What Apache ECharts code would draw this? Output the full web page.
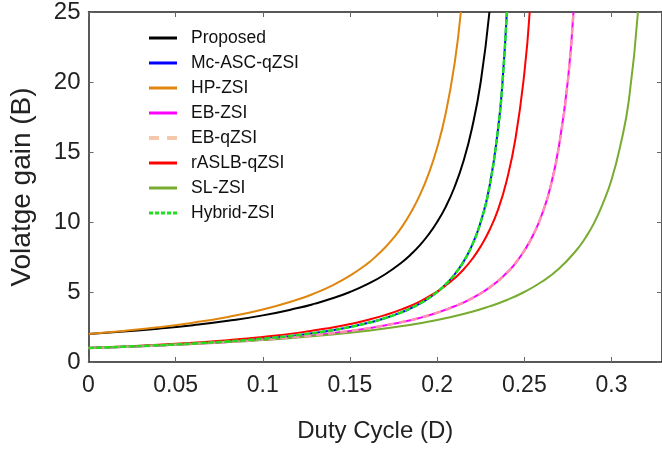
<!DOCTYPE html>
<html>
<head>
<meta charset="utf-8">
<script src="https://cdn.jsdelivr.net/npm/echarts@6/dist/echarts.min.js"></script>
<style>
  html, body { margin: 0; padding: 0; background: #fff; }
  #main { width: 662px; height: 450px; }
</style>
</head>
<body>
<div id="main"></div>
<script>
// values (duty cycle D -> voltage gain B)
var proposedD = [0, 0.02, 0.04, 0.06, 0.08, 0.1, 0.12, 0.13, 0.14, 0.15, 0.16, 0.17, 0.18, 0.185, 0.19, 0.195, 0.2, 0.205, 0.21, 0.215, 0.22, 0.225, 0.23];
var proposedB = [2, 2.17, 2.38, 2.63, 2.94, 3.33, 3.85, 4.17, 4.55, 5.0, 5.56, 6.25, 7.14, 7.69, 8.33, 9.09, 10, 11.1, 12.5, 14.3, 16.7, 20, 25];

var hpD = [0, 0.02, 0.04, 0.06, 0.08, 0.1, 0.12, 0.13, 0.14, 0.15, 0.16, 0.165, 0.17, 0.175, 0.18, 0.185, 0.19, 0.195, 0.2, 0.205, 0.21, 0.2136];
var hpB = [2, 2.22, 2.48, 2.81, 3.22, 3.75, 4.46, 4.92, 5.48, 6.17, 7.03, 7.56, 8.16, 8.86, 9.69, 10.7, 11.9, 13.4, 15.3, 17.8, 21.3, 25];

var mcD = [0, 0.02, 0.04, 0.06, 0.08, 0.1, 0.12, 0.14, 0.15, 0.16, 0.17, 0.18, 0.185, 0.19, 0.195, 0.2, 0.205, 0.21, 0.215, 0.22, 0.225, 0.23, 0.235, 0.2375, 0.24];
var mcB = [1, 1.09, 1.19, 1.32, 1.47, 1.67, 1.92, 2.27, 2.5, 2.78, 3.13, 3.57, 3.85, 4.17, 4.55, 5, 5.56, 6.25, 7.14, 8.33, 10, 12.5, 16.7, 20, 25];

var ebD = [0, 0.02, 0.04, 0.06, 0.08, 0.1, 0.12, 0.14, 0.16, 0.18, 0.19, 0.2, 0.21, 0.22, 0.23, 0.24, 0.245, 0.25, 0.255, 0.26, 0.265, 0.27, 0.275, 0.2782];
var ebB = [1, 1.08, 1.18, 1.30, 1.43, 1.60, 1.80, 2.06, 2.40, 2.86, 3.15, 3.52, 3.98, 4.55, 5.31, 6.37, 7.07, 7.95, 9.05, 10.5, 12.5, 15.5, 20.1, 25];

var raslbD = [0, 0.02, 0.04, 0.06, 0.08, 0.1, 0.12, 0.14, 0.15, 0.16, 0.17, 0.18, 0.19, 0.2, 0.205, 0.21, 0.215, 0.22, 0.225, 0.23, 0.235, 0.24, 0.245, 0.25, 0.2531];
var raslbB = [1, 1.10, 1.23, 1.38, 1.56, 1.79, 2.08, 2.47, 2.71, 3.0, 3.35, 3.78, 4.32, 5.03, 5.47, 5.98, 6.59, 7.34, 8.26, 9.41, 10.9, 13.0, 16.0, 20.6, 25];

var slD = [0, 0.02, 0.04, 0.06, 0.08, 0.1, 0.12, 0.14, 0.16, 0.18, 0.2, 0.22, 0.23, 0.24, 0.25, 0.26, 0.27, 0.28, 0.285, 0.29, 0.295, 0.3, 0.305, 0.31, 0.3152];
var slB = [1, 1.09, 1.18, 1.29, 1.42, 1.57, 1.75, 1.97, 2.23, 2.57, 3.0, 3.59, 3.97, 4.43, 5.0, 5.73, 6.68, 8.0, 8.86, 9.92, 11.3, 13, 15.4, 18.7, 25];

var xTicks = [0, 0.05, 0.1, 0.15, 0.2, 0.25, 0.3];

function pairs(xs, ys) {
  return xs.map(function (x, i) { return [x, ys[i]]; });
}

var font = "'Liberation Sans', Arial, sans-serif";

var myChart = echarts.init(document.getElementById('main'));

function line(name, xs, ys, color, width, type, z) {
  return {
    name: name,
    type: 'line',
    data: pairs(xs, ys),
    showSymbol: false,
    symbol: 'none',
    smooth: 0.5,
    z: z,
    lineStyle: { color: color, width: width, type: type },
    itemStyle: { color: color },
    animation: false
  };
}

// legend icons: plain bars or dashed bars instead of line+circle
var solidIcon = 'path://M0,0H28V3H0Z';
var peachIcon = 'path://M0,0H10V4H0ZM18,0H28V4H18Z';
var hybridIcon = 'path://M0,0H4V3H0ZM6,0H10V3H6ZM12,0H16V3H12ZM18,0H22V3H18ZM24,0H28V3H24Z';

function legendItem(name, icon, color) {
  return { name: name, icon: icon, itemStyle: { color: color } };
}

var option = {
  animation: false,
  grid: { left: 88.5, right: -2, top: 9.5, bottom: 88 },
  legend: {
    orient: 'vertical',
    left: 144,
    top: 24,
    itemWidth: 28,
    itemHeight: 14,
    itemGap: 7,
    textStyle: { fontFamily: font, fontSize: 17.5, color: '#111', lineHeight: 17, padding: [0, 0, 0, 9] },
    data: [
      legendItem('Proposed', solidIcon, '#000000'),
      legendItem('Mc-ASC-qZSI', solidIcon, '#0000ff'),
      legendItem('HP-ZSI', solidIcon, '#e0860f'),
      legendItem('EB-ZSI', solidIcon, '#ff00ff'),
      legendItem('EB-qZSI', peachIcon, '#f6c8ab'),
      legendItem('rASLB-qZSI', solidIcon, '#ff0000'),
      legendItem('SL-ZSI', solidIcon, '#77ac30'),
      legendItem('Hybrid-ZSI', hybridIcon, '#1ee01e')
    ]
  },
  xAxis: [{
    type: 'value',
    min: 0,
    max: 0.329,
    interval: 0.05,
    name: 'Duty Cycle (D)',
    nameLocation: 'middle',
    nameGap: 57,
    nameTextStyle: { fontFamily: font, fontSize: 24, color: '#222' },
    axisLine: { onZero: false, lineStyle: { color: '#222', width: 1.5 } },
    axisTick: { inside: true, length: 5, lineStyle: { color: '#666' } },
    axisLabel: {
      fontFamily: font, fontSize: 23, color: '#222', margin: 12, showMaxLabel: false,
      formatter: function (v) {
        var r = Math.round(v * 100) / 100;
        return xTicks.indexOf(r) >= 0 ? String(r) : '';
      }
    },
    splitLine: { show: false }
  }, {
    type: 'value',
    position: 'top',
    min: 0,
    max: 0.329,
    interval: 0.05,
    axisLine: { show: true, onZero: false, lineStyle: { color: '#222', width: 1.5 } },
    axisTick: { show: true, inside: true, length: 5, lineStyle: { color: '#666' } },
    axisLabel: { show: false },
    splitLine: { show: false }
  }],
  yAxis: [{
    type: 'value',
    min: 0,
    max: 25,
    interval: 5,
    name: 'Volatge gain (B)',
    nameLocation: 'middle',
    nameGap: 52,
    nameTextStyle: { fontFamily: font, fontSize: 28, color: '#222' },
    axisLine: { show: true, onZero: false, lineStyle: { color: '#222', width: 1.5 } },
    axisTick: { show: true, inside: true, length: 5, lineStyle: { color: '#666' } },
    axisLabel: { fontFamily: font, fontSize: 24, color: '#222', margin: 8 },
    splitLine: { show: false }
  }, {
    type: 'value',
    position: 'right',
    min: 0,
    max: 25,
    interval: 5,
    axisLine: { show: true, onZero: false, lineStyle: { color: '#222', width: 1.5 } },
    axisTick: { show: true, inside: true, length: 5, lineStyle: { color: '#666' } },
    axisLabel: { show: false },
    splitLine: { show: false }
  }],
  series: [
    line('Proposed', proposedD, proposedB, '#000000', 2, 'solid', 2),
    line('Mc-ASC-qZSI', mcD, mcB, '#0000ff', 2, 'solid', 2),
    line('HP-ZSI', hpD, hpB, '#e0860f', 2, 'solid', 2),
    line('EB-ZSI', ebD, ebB, '#ff00ff', 2, 'solid', 2),
    line('EB-qZSI', ebD, ebB, '#ff8fb4', 2.5, [7, 5], 3),
    line('rASLB-qZSI', raslbD, raslbB, '#ff0000', 2, 'solid', 2),
    line('SL-ZSI', slD, slB, '#77ac30', 2, 'solid', 2),
    line('Hybrid-ZSI', mcD, mcB, '#1ee01e', 2.5, [6, 2], 4)
  ]
};
myChart.setOption(option);
</script>
</body>
</html>
